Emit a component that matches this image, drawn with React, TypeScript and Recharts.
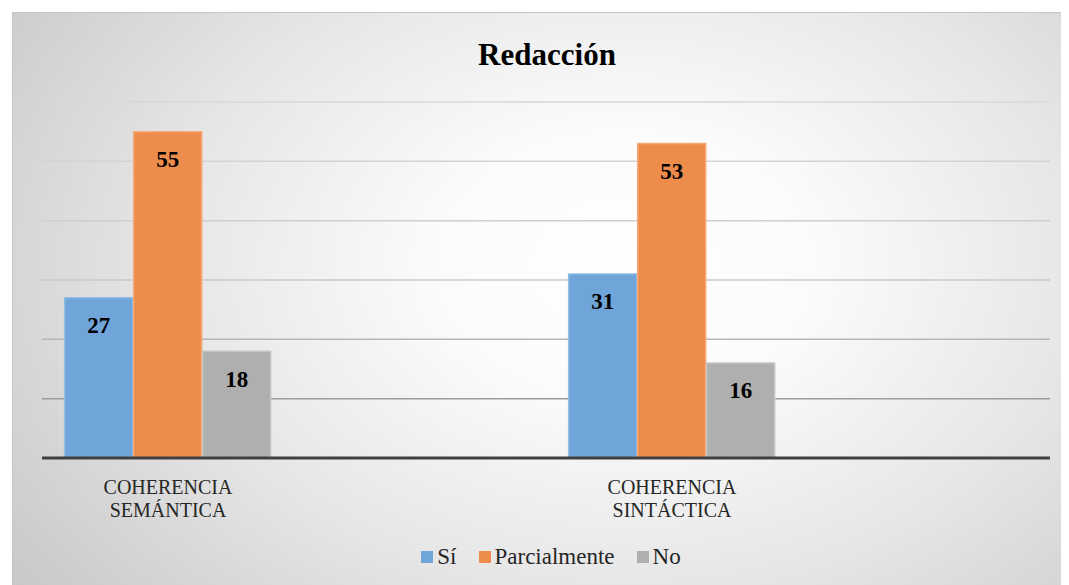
import React from 'react';
import { BarChart, Bar, XAxis, YAxis, CartesianGrid, Legend, LabelList } from 'recharts';

// categories (the blank ones keep the empty slots of the original layout)
const categories = ['COHERENCIA SEMÁNTICA', '', 'COHERENCIA SINTÁCTICA', ''];
const siValues = [27, null, 31, null];
const parcialValues = [55, null, 53, null];
const noValues = [18, null, 16, null];
const yTicks = [0, 10, 20, 30, 40, 50, 60];

const seriesNames = ['Sí', 'Parcialmente', 'No'];
const seriesColors = ['#6fa5d8', '#ee8c4c', '#afafaf'];

const data = categories.map((name, i) => ({
  name,
  si: siValues[i],
  parcial: parcialValues[i],
  no: noValues[i],
}));

const serif = 'Liberation Serif, Tinos, Times New Roman, DejaVu Serif, serif';

const CategoryTick = (props: any) => {
  const { x, y, payload } = props;
  const words = String(payload.value || '').split(' ').filter(Boolean);
  return (
    <g transform={`translate(${x},${y})`}>
      {words.map((w: string, i: number) => (
        <text
          key={i}
          x={0}
          y={34 + i * 23}
          textAnchor="middle"
          style={{ fontFamily: serif, fontSize: 20 }}
          fill="#262626"
        >
          {w}
        </text>
      ))}
    </g>
  );
};

const LegendContent = () => (
  <div
    style={{
      height: 30,
      display: 'flex',
      justifyContent: 'center',
      alignItems: 'center',
      paddingLeft: 10,
      fontFamily: serif,
      fontSize: 23,
      color: '#262626',
    }}
  >
    {seriesNames.map((n, i) => (
      <div key={n} style={{ display: 'flex', alignItems: 'center', marginRight: i < 2 ? 22 : 0 }}>
        <span style={{ width: 12, height: 12, background: seriesColors[i], marginRight: 4, display: 'inline-block' }} />
        <span>{n}</span>
      </div>
    ))}
  </div>
);

const labelStyle = { fontFamily: serif, fontSize: 23, fontWeight: 700, fill: '#000' };

export default function App() {
  return (
    <div
      style={{
        position: 'relative',
        marginLeft: 4,
        marginTop: 4,
        width: 1057,
        height: 573,
        boxSizing: 'border-box',
        borderTop: '1px solid #c4c4c4',
        borderLeft: '1px solid #c4c4c4',
        background: 'radial-gradient(ellipse 72% 95% at 58% 44%, #ffffff 0%, #fbfbfb 25%, #e6e6e6 60%, #c8c8c8 100%)',
      }}
    >
      <div
        style={{
          position: 'absolute',
          left: 30,
          width: 1008,
          top: 26,
          lineHeight: '31px',
          textAlign: 'center',
          fontFamily: serif,
          fontWeight: 700,
          fontSize: 31,
          color: '#000',
        }}
      >
        Redacción
      </div>
      <BarChart
        width={1057}
        height={573}
        data={data}
        margin={{ top: 90, right: 19, left: 30, bottom: 13 }}
        barCategoryGap="9%"
        barGap={1}
        style={{ position: 'absolute', left: -1, top: -1 }}
      >
        <defs>
          <linearGradient id="gridGrad" gradientUnits="userSpaceOnUse" x1="0" y1="90" x2="0" y2="420">
            <stop offset="0%" stopColor="#d8d8d8" />
            <stop offset="60%" stopColor="#c8c8c8" />
            <stop offset="100%" stopColor="#8e8e8e" />
          </linearGradient>
        </defs>
        <CartesianGrid vertical={false} stroke="url(#gridGrad)" strokeWidth={1.5} />
        <YAxis hide domain={[0, 60]} ticks={yTicks} />
        <XAxis
          dataKey="name"
          height={84}
          tickSize={0}
          tickLine={false}
          interval={0}
          tick={<CategoryTick />}
          axisLine={{ stroke: '#404040', strokeWidth: 3 }}
        />
        <Legend verticalAlign="bottom" content={<LegendContent />} />
        <Bar dataKey="si" name="Sí" fill={seriesColors[0]} stroke="#8fbbe3" strokeWidth={1.5} isAnimationActive={false}>
          <LabelList dataKey="si" position="insideTop" offset={19} style={labelStyle} />
        </Bar>
        <Bar dataKey="parcial" name="Parcialmente" fill={seriesColors[1]} stroke="#f3aa79" strokeWidth={1.5} isAnimationActive={false}>
          <LabelList dataKey="parcial" position="insideTop" offset={19} style={labelStyle} />
        </Bar>
        <Bar dataKey="no" name="No" fill={seriesColors[2]} stroke="#c6c6c6" strokeWidth={1.5} isAnimationActive={false}>
          <LabelList dataKey="no" position="insideTop" offset={19} style={labelStyle} />
        </Bar>
      </BarChart>
    </div>
  );
}
